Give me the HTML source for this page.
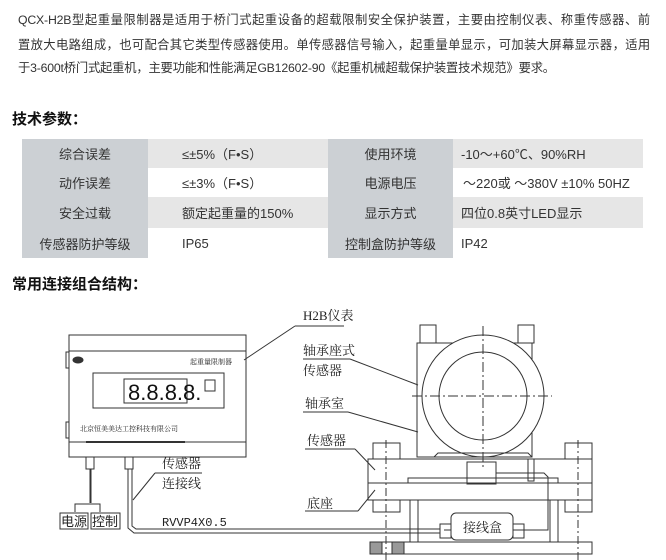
<!DOCTYPE html>
<html><head><meta charset="utf-8"><style>
body{margin:0;width:666px;height:560px;background:#fff;overflow:hidden;position:relative;font-family:"Liberation Sans","Noto Sans CJK SC",sans-serif;color:#333}
.p{position:absolute;left:18px;width:632px;font-size:12.3px;white-space:nowrap;text-align:justify;text-align-last:justify;letter-spacing:-0.2px}
.h{position:absolute;left:12px;font-size:15px;font-weight:bold;color:#111}
table{position:absolute;border-collapse:collapse;font-size:13px;color:#333}
td{padding:0;height:29px}
</style></head><body>
<div class="p" style="top:10px">QCX-H2B型起重量限制器是适用于桥门式起重设备的超载限制安全保护装置，主要由控制仪表、称重传感器、前</div>
<div class="p" style="top:35px">置放大电路组成，也可配合其它类型传感器使用。单传感器信号输入，起重量单显示，可加装大屏幕显示器，适用</div>
<div class="p" style="top:58px;width:auto;text-align-last:auto">于3-600t桥门式起重机，主要功能和性能满足GB12602-90《起重机械超载保护装置技术规范》要求。</div>
<div class="h" style="top:108px">技术参数：</div>
<table style="left:22px;top:139px;width:621px">
<tr style="background:#e6e6e6"><td style="width:126px;text-align:center;background:#ccd0d4">综合误差</td><td style="width:180px;padding-left:34px;box-sizing:border-box">≤±5%（F•S）</td><td style="width:125px;text-align:center;background:#ccd0d4">使用环境</td><td style="padding-left:8px">-10～+60℃、90%RH</td></tr>
<tr style="background:#fff"><td style="text-align:center;background:#ccd0d4">动作误差</td><td style="padding-left:34px">≤±3%（F•S）</td><td style="text-align:center;background:#ccd0d4">电源电压</td><td style="padding-left:10px">～220或 ～380V  ±10%  50HZ</td></tr>
<tr style="background:#e6e6e6"><td style="text-align:center;background:#ccd0d4;height:31px">安全过载</td><td style="padding-left:34px">额定起重量的150%</td><td style="text-align:center;background:#ccd0d4">显示方式</td><td style="padding-left:8px">四位0.8英寸LED显示</td></tr>
<tr style="background:#fff"><td style="text-align:center;background:#ccd0d4;height:30px">传感器防护等级</td><td style="padding-left:34px">IP65</td><td style="text-align:center;background:#ccd0d4">控制盒防护等级</td><td style="padding-left:8px">IP42</td></tr>
</table>
<div class="h" style="top:273px">常用连接组合结构：</div>
<svg style="position:absolute;left:0;top:0" width="666" height="560" font-family="Liberation Serif,Noto Serif CJK SC,serif" fill="none" stroke="#333" stroke-width="1">
<rect x="69" y="335" width="177" height="122"/>
<line x1="69" y1="351" x2="246" y2="351"/>
<line x1="69" y1="442" x2="246" y2="442"/>
<line x1="86" y1="442" x2="185" y2="442" stroke-width="2"/>
<rect x="66" y="352" width="3" height="16"/><rect x="66" y="422" width="3" height="16"/>
<ellipse cx="78" cy="360" rx="5" ry="3" fill="#333"/>
<rect x="93" y="373" width="131" height="35"/>
<rect x="124" y="379" width="63" height="24"/>
<rect x="205" y="380" width="10" height="11"/>
<g fill="#222" stroke="none" font-size="7"><text x="190" y="364">起重量限制器</text><text x="80" y="431">北京恒美美达工控科技有限公司</text></g>
<text x="128" y="400" font-family="Liberation Sans" font-size="22" fill="#111" stroke="none">8.8.8.8.</text>
<rect x="86" y="457" width="8" height="12"/><rect x="125" y="457" width="8" height="12"/>
<line x1="90" y1="469" x2="90" y2="503"/><line x1="91" y1="469" x2="91" y2="503"/>
<polyline points="75,512 75,504 100,504 100,512"/>
<rect x="60" y="513" width="28" height="16"/><rect x="91" y="513" width="29" height="16"/>
<g fill="#222" stroke="none" font-size="13" font-family="Liberation Sans,Noto Sans CJK SC,sans-serif"><text x="61" y="526">电源</text><text x="92" y="526">控制</text></g>
<polyline points="128,469 128,528 134,533 440,533"/>
<polyline points="132,469 132,526 136,529 440,529"/>
<text x="162" y="526" font-family="Liberation Mono" font-size="12" fill="#222" stroke="none">RVVP4X0.5</text>
<g fill="#222" stroke="none" font-size="13"><text x="303" y="320">H2B仪表</text><text x="303" y="355">轴承座式</text><text x="303" y="375">传感器</text><text x="305" y="408">轴承室</text><text x="307" y="445">传感器</text><text x="307" y="508">底座</text><text x="162" y="468">传感器</text><text x="162" y="488">连接线</text></g>
<line x1="295" y1="326" x2="344" y2="326"/><line x1="295" y1="326" x2="244" y2="360"/>
<line x1="303" y1="359" x2="350" y2="359"/><line x1="350" y1="359" x2="418" y2="385"/>
<line x1="303" y1="412" x2="348" y2="412"/><line x1="348" y1="412" x2="418" y2="432"/>
<line x1="305" y1="449" x2="355" y2="449"/><line x1="355" y1="449" x2="375" y2="470"/>
<line x1="305" y1="511" x2="358" y2="511"/><line x1="358" y1="511" x2="375" y2="490"/>
<line x1="155" y1="473" x2="202" y2="473"/><line x1="155" y1="473" x2="133" y2="500"/>
<rect x="420" y="325" width="16" height="18"/><rect x="518" y="325" width="16" height="18"/>
<rect x="417" y="343" width="115" height="114"/>
<circle cx="483" cy="396" r="61" fill="#fff"/>
<ellipse cx="483" cy="396" rx="44" ry="44"/>
<line x1="483" y1="326" x2="483" y2="470" stroke-dasharray="10,3,2,3"/>
<line x1="412" y1="396" x2="552" y2="396" stroke-dasharray="10,3,2,3"/>
<polyline points="434,457 438,453 528,453 532,457"/>
<rect x="373" y="443" width="27" height="16"/><rect x="565" y="443" width="27" height="16"/>
<rect x="368" y="459" width="224" height="24"/>
<rect x="368" y="483" width="224" height="17"/>
<rect x="408" y="478" width="150" height="5"/>
<rect x="373" y="500" width="27" height="12"/><rect x="565" y="500" width="27" height="12"/>
<rect x="467" y="462" width="29" height="22"/>
<rect x="528" y="459" width="6" height="22"/>
<polyline points="496,473 544,473 548,477 548,530 444,530"/>
<line x1="410" y1="500" x2="410" y2="542"/><line x1="418" y1="500" x2="418" y2="542"/>
<line x1="550" y1="500" x2="550" y2="542"/><line x1="558" y1="500" x2="558" y2="542"/>
<rect x="451" y="513" width="62" height="27" rx="5" fill="#fff"/>
<rect x="440" y="524" width="11" height="14"/><rect x="513" y="524" width="11" height="14"/>
<text x="463" y="532" font-size="13" fill="#222" stroke="none">接线盒</text>
<rect x="370" y="542" width="222" height="12"/>
<rect x="370" y="542" width="12" height="12" fill="#999"/><rect x="392" y="542" width="12" height="12" fill="#999"/>
<line x1="386" y1="440" x2="386" y2="560" stroke-dasharray="8,3,2,3"/><line x1="578" y1="440" x2="578" y2="560" stroke-dasharray="8,3,2,3"/>
</svg>
</body></html>
